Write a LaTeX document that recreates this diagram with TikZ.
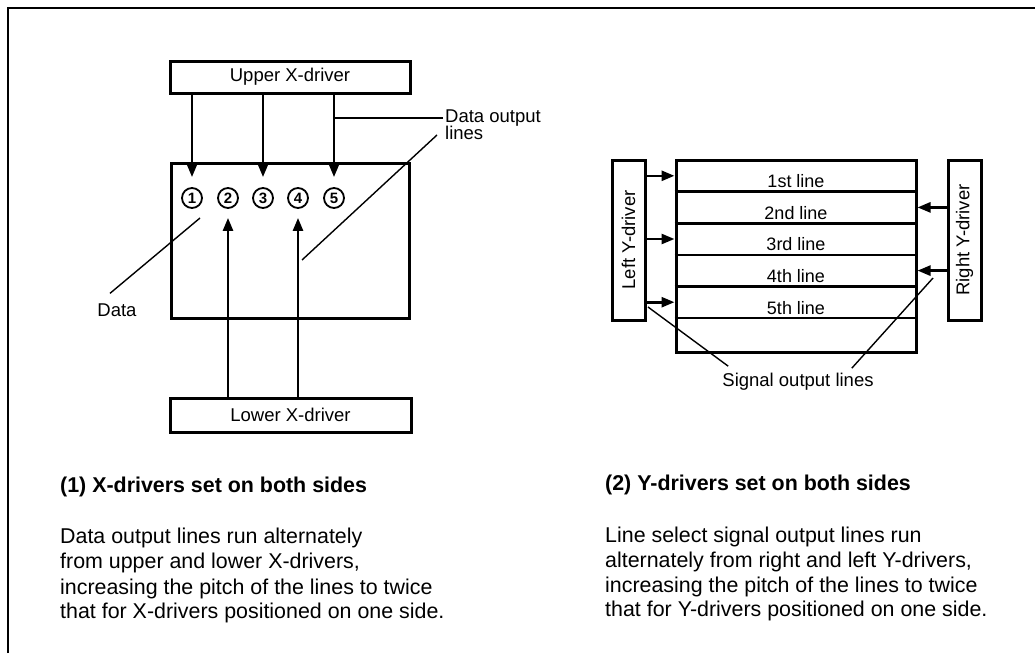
\documentclass[tikz,border=0pt]{standalone}
\usepackage{fontspec}
\setmainfont{Liberation Sans}
\usepackage{graphicx}
\usetikzlibrary{arrows.meta}
\begin{document}
\begin{tikzpicture}[x=1pt,y=-1pt,
 box/.style={draw, line width=3pt, inner sep=0pt},
 arr/.style={line width=2.6pt, -{Triangle[length=13pt,width=10pt]}},
 lead/.style={line width=1.4pt},
 lab/.style={font=\fontsize{18.5}{20}\selectfont, inner sep=0pt},
 rowlab/.style={font=\fontsize{18}{20}\selectfont, inner sep=0pt, anchor=base},
 body/.style={font=\fontsize{21.4}{25}\selectfont, anchor=base west, inner sep=0pt},
 head/.style={font=\fontsize{21.4}{25}\selectfont\bfseries, anchor=base west, inner sep=0pt},
 num/.style={circle, draw, line width=1.8pt, minimum size=20pt, inner sep=0pt, font=\fontsize{15}{15}\selectfont\bfseries}
]
\useasboundingbox (0,0) rectangle (1035,653);
\draw[line width=2.4pt] (8,653) -- (8,8) -- (1035,8);

% ---------- left diagram ----------
\node[box, lab, minimum width=240pt, minimum height=32pt] (upper) at (290,77) {Upper X-driver};
\node[box, minimum width=238pt, minimum height=155pt] (mainL) at (290,240.5) {};
\node[box, lab, minimum width=241pt, minimum height=34pt] (lower) at (290.5,415) {Lower X-driver};

\node[num] (c1) at (192,198) {1};
\node[num] (c2) at (228,198) {2};
\node[num] (c3) at (263,198) {3};
\node[num] (c4) at (298,198) {4};
\node[num] (c5) at (334,198) {5};

\foreach \c in {c1,c3,c5}
  \draw[arr] (upper.south -| \c) -- ([yshift=10pt]\c.north);
\foreach \c in {c2,c4}
  \draw[arr] (lower.north -| \c) -- ([yshift=-9pt]\c.south);

\node[lab, anchor=west] (dol1) at (445,118) {Data output};
\node[lab, anchor=west] (dol2) at (445,133) {lines};
\draw[lead] ([xshift=-2pt]dol1.west) -- (dol1.west -| c5);
\coordinate (p4) at (302,260);
\draw[lead] ([xshift=-8pt,yshift=-2pt]dol2.west) -- (p4);

\node[lab] (data) at (117,310) {Data};
\coordinate (pd) at (200,218);
\draw[lead] ([shift={(-7pt,10pt)}]data.north) -- (pd);

% ---------- right diagram ----------
\node[box, lab, minimum width=33pt, minimum height=160pt] (ly) at (628.5,240) {\rotatebox{90}{Left Y-driver}};
\node[box, lab, minimum width=33pt, minimum height=160pt] (ry) at (964.5,240) {\rotatebox{90}{Right Y-driver}};
\node[box, minimum width=240pt, minimum height=192pt] (mainR) at (796,256) {};

\foreach \k/\t in {1/1st line,2/2nd line,3/3rd line,4/4th line,5/5th line}{
  \coordinate (h\k) at (0,{160+31.6*\k});
  \coordinate (r\k) at (0,{160+31.6*\k-15.8});
  \draw[line width=2.6pt] (mainR.west |- h\k) -- (mainR.east |- h\k);
  \node[rowlab] (rl\k) at (796,{160+31.6*\k-4}) {\t};
}
\foreach \k in {1,3,5}
  \draw[arr] (ly.east |- r\k) -- (mainR.west |- r\k);
\foreach \k in {2,4}
  \draw[arr] (ry.west |- r\k) -- (mainR.east |- r\k);

\node[lab] (sol) at (798,382) {Signal output lines};
\coordinate (sl) at (648,307);
\coordinate (sr) at (933,278);
\draw[lead] (sl) -- ([shift={(6pt,7pt)}]sol.north west);
\draw[lead] (sr) -- ([shift={(-22pt,5pt)}]sol.north east);

% ---------- texts ----------
\node[head] (h1) at (60,492) {(1) X-drivers set on both sides};
\node[body] (t11) at (60,543) {Data output lines run alternately};
\node[body] (t12) at (60,568) {from upper and lower X-drivers,};
\node[body] (t13) at (60,594) {increasing the pitch of the lines to twice};
\node[body] (t14) at (60,618) {that for X-drivers positioned on one side.};

\node[head] (h2) at (605,490) {(2) Y-drivers set on both sides};
\node[body] (t21) at (605,542) {Line select signal output lines run};
\node[body] (t22) at (605,567) {alternately from right and left Y-drivers,};
\node[body] (t23) at (605,592) {increasing the pitch of the lines to twice};
\node[body] (t24) at (605,616) {that for Y-drivers positioned on one side.};
\end{tikzpicture}
\end{document}
